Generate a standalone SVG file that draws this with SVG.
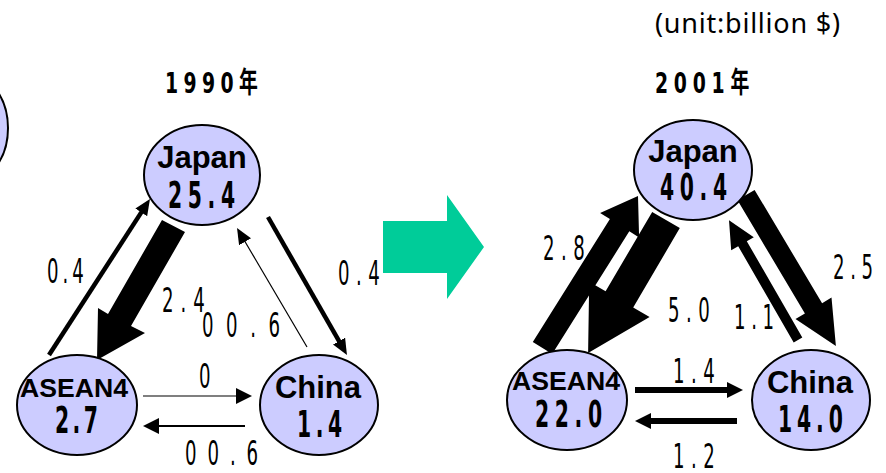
<svg xmlns="http://www.w3.org/2000/svg" width="886" height="473" viewBox="0 0 886 473">
<style>
.bg{fill:#ffffff}
.node{fill:#CCCCFF;stroke:#000;stroke-width:2}
.name{font-family:"Liberation Sans",Arial,sans-serif;font-weight:bold;font-size:31px;fill:#000}
.aname{font-family:"Liberation Sans",Arial,sans-serif;font-weight:bold;font-size:26px;fill:#000}
.val{font-family:"DejaVu Sans",sans-serif;font-weight:bold;font-size:37px;fill:#000}
.lbl{font-family:"DejaVu Sans",sans-serif;font-size:33px;fill:#000}
.title{font-family:"DejaVu Sans","Noto Sans CJK JP",sans-serif;font-weight:bold;font-size:29px;fill:#000}
.unit{font-family:"Noto Sans","Liberation Sans",sans-serif;font-size:27px;fill:#000}
.ln{fill:none;stroke:#000}
.fat{fill:#000;stroke:none}
</style>
<defs>
<marker id="ah" markerUnits="userSpaceOnUse" markerWidth="16" markerHeight="14" refX="3" refY="7" orient="auto" viewBox="0 0 16 14">
<path d="M0,0 L16,7 L0,14 z" fill="#000"/>
</marker>
<marker id="ahb" markerUnits="userSpaceOnUse" markerWidth="16" markerHeight="16" refX="3" refY="8" orient="auto" viewBox="0 0 16 16">
<path d="M0,0 L16,8 L0,16 z" fill="#000"/>
</marker>
</defs>
<rect class="bg" x="0" y="0" width="886" height="473"/>

<text class="unit" x="655" y="33" textLength="185" lengthAdjust="spacing">(unit:billion $)</text>
<text class="title" transform="translate(165,93) scale(0.65,1)" x="0" y="0" textLength="143" lengthAdjust="spacing">1990年</text>
<text class="title" transform="translate(655,93) scale(0.65,1)" x="0" y="0" textLength="145" lengthAdjust="spacing">2001年</text>

<g id="transition">
<polygon points="383,221 447,221 447,195 484,247 447,299 447,273 383,273" fill="#00CC99"/>
</g>

<g id="connectors">
<!-- 1990 -->
<line class="ln" x1="49" y1="355" x2="142.9" y2="209.9" stroke-width="4.5" marker-end="url(#ah)"/>
<polygon class="fat" points="162,220 185,232 131,326 145,333 97,360 98,308 108,314"/>
<line class="ln" x1="307" y1="347" x2="243.6" y2="239.2" stroke-width="1.2" marker-end="url(#ah)"/>
<line class="ln" x1="268" y1="217" x2="340.5" y2="343.7" stroke-width="4.5" marker-end="url(#ah)"/>
<line class="ln" x1="143" y1="396" x2="239" y2="396" stroke-width="1.2" marker-end="url(#ahb)"/>
<line class="ln" x1="245" y1="426" x2="156" y2="426" stroke-width="2" marker-end="url(#ahb)"/>
<!-- 2001 -->
<polygon class="fat" points="532.8,341.9 609.9,219.1 600.1,213 638,196 639.1,237.4 629.3,231.3 552.2,354.1"/>
<polygon class="fat" points="652.2,211.9 679.8,228.1 633.2,307.5 649.6,317.1 588.1,352.9 589.2,281.7 605.6,291.3"/>
<polygon class="fat" points="737.4,200.1 754.6,189.9 822.1,303.2 831.5,297.6 835.9,346 795.5,319 804.9,313.4"/>
<polygon class="fat" points="793.7,342.5 802.3,337.5 746.8,241.2 753.8,237.2 729,220.2 731.2,250.2 738.2,246.2"/>
<line class="ln" x1="635" y1="390" x2="730" y2="390" stroke-width="6" marker-end="url(#ahb)"/>
<line class="ln" x1="737" y1="421" x2="648" y2="421" stroke-width="6" marker-end="url(#ahb)"/>

<text class="lbl" transform="translate(47,283) scale(0.55,1)" x="0" y="0" textLength="67" lengthAdjust="spacing">0.4</text>
<text class="lbl" transform="translate(162,312) scale(0.55,1)" x="0" y="0" textLength="78" lengthAdjust="spacing">2.4</text>
<text class="lbl" transform="translate(202,337) scale(0.55,1)" x="0" y="0" textLength="142" lengthAdjust="spacing">00.6</text>
<text class="lbl" transform="translate(338,285) scale(0.55,1)" x="0" y="0" textLength="76" lengthAdjust="spacing">0.4</text>
<text class="lbl" transform="translate(199,388) scale(0.55,1)" x="0" y="0">0</text>
<text class="lbl" transform="translate(185,465) scale(0.55,1)" x="0" y="0" textLength="133" lengthAdjust="spacing">00.6</text>
<text class="lbl" transform="translate(543,260) scale(0.55,1)" x="0" y="0" textLength="76" lengthAdjust="spacing">2.8</text>
<text class="lbl" transform="translate(668,322) scale(0.55,1)" x="0" y="0" textLength="76" lengthAdjust="spacing">5.0</text>
<text class="lbl" transform="translate(734,329) scale(0.55,1)" x="0" y="0" textLength="73" lengthAdjust="spacing">1.1</text>
<text class="lbl" transform="translate(833,279) scale(0.55,1)" x="0" y="0" textLength="73" lengthAdjust="spacing">2.5</text>
<text class="lbl" transform="translate(673,383) scale(0.55,1)" x="0" y="0" textLength="76" lengthAdjust="spacing">1.4</text>
<text class="lbl" transform="translate(673,468) scale(0.55,1)" x="0" y="0" textLength="76" lengthAdjust="spacing">1.2</text>
</g>

<g id="node-partial">
<ellipse class="node" cx="-25" cy="128" rx="33" ry="50"/>
</g>

<g id="node-japan-1990">
<ellipse class="node" cx="202" cy="175" rx="58" ry="50"/>
<text class="name" x="202" y="168" text-anchor="middle">Japan</text>
<text class="val" transform="translate(168,208) scale(0.55,1)" x="0" y="0" textLength="122" lengthAdjust="spacing">25.4</text>
</g>
<g id="node-asean-1990">
<ellipse class="node" cx="77" cy="405" rx="60" ry="50"/>
<text class="aname" x="20" y="397" textLength="108" lengthAdjust="spacingAndGlyphs">ASEAN4</text>
<text class="val" transform="translate(55,433) scale(0.55,1)" x="0" y="0" textLength="78" lengthAdjust="spacing">2.7</text>
</g>
<g id="node-china-1990">
<ellipse class="node" cx="319" cy="405" rx="59" ry="50"/>
<text class="name" x="318" y="398" text-anchor="middle">China</text>
<text class="val" transform="translate(297,437) scale(0.55,1)" x="0" y="0" textLength="82" lengthAdjust="spacing">1.4</text>
</g>

<g id="node-japan-2001">
<ellipse class="node" cx="693" cy="170" rx="59" ry="50"/>
<text class="name" x="693" y="162" text-anchor="middle">Japan</text>
<text class="val" transform="translate(660,200) scale(0.55,1)" x="0" y="0" textLength="122" lengthAdjust="spacing">40.4</text>
</g>
<g id="node-asean-2001">
<ellipse class="node" cx="567" cy="400" rx="60" ry="50"/>
<text class="aname" x="512" y="390" textLength="108" lengthAdjust="spacingAndGlyphs">ASEAN4</text>
<text class="val" transform="translate(535,427) scale(0.55,1)" x="0" y="0" textLength="122" lengthAdjust="spacing">22.0</text>
</g>
<g id="node-china-2001">
<ellipse class="node" cx="811" cy="400" rx="59" ry="50"/>
<text class="name" x="810" y="393" text-anchor="middle">China</text>
<text class="val" transform="translate(778,432) scale(0.55,1)" x="0" y="0" textLength="118" lengthAdjust="spacing">14.0</text>
</g>
</svg>
